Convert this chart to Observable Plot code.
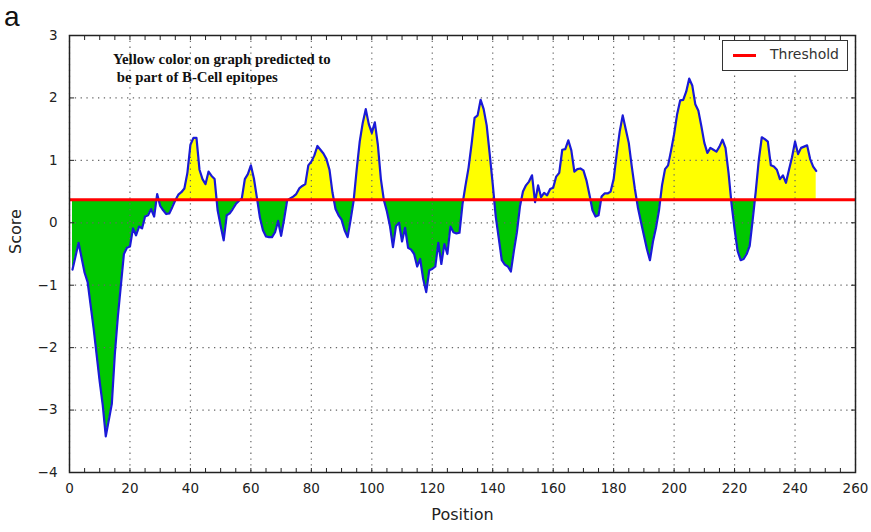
<!DOCTYPE html>
<html>
<head>
<meta charset="utf-8">
<script src="https://cdn.jsdelivr.net/npm/d3@7"></script>
<script src="https://cdn.jsdelivr.net/npm/@observablehq/plot@0.6"></script>
<style>
  body { margin: 0; background: #fff; }
  #wrap { position: relative; width: 871px; height: 532px; overflow: hidden; }
  #panel { position: absolute; left: 4px; top: 2px; font: 28px "Liberation Sans", Arial, sans-serif; color: #111; line-height: 30px; }
  #note { position: absolute; left: 113px; top: 50px; font: bold 14.8px "Liberation Serif", "Times New Roman", serif; line-height: 18px; color: #111; white-space: pre; }
  #legend { position: absolute; left: 722px; top: 40px; width: 126px; height: 31px; border: 1px solid #333; background: #fff; box-sizing: border-box; }
  #legend .sw { position: absolute; left: 10px; top: 13px; width: 23px; height: 3px; background: #ff0000; }
  #legend .lb { position: absolute; left: 47px; top: 5px; font: 14px "DejaVu Sans", sans-serif; color: #333; }
</style>
</head>
<body>
<div id="wrap">
  <div id="chart"></div>
  <div id="panel">a</div>
  <div id="note">Yellow color on graph predicted to
 be part of B-Cell epitopes</div>
  <div id="legend"><div class="sw"></div><div class="lb">Threshold</div></div>
</div>
<script>
// ---- data ----
const positions = [
  1,3,5,6,8,10,11,12,14,15,16,17,18,19,20,21,22,23,24,25,26,27,28,29,30,
  31,32,33,34,35,36,37,38,39,40,41,42,43,44,45,46,47,48,49,50,
  51,52,53,54,55,56,57,58,59,60,61,62,63,64,65,66,67,68,69,70,
  71,72,73,74,75,76,77,78,79,80,81,82,83,84,85,86,87,88,89,90,
  91,92,93,94,95,96,97,98,99,100,101,102,103,104,105,106,107,108,109,110,
  111,112,113,114,115,116,117,118,119,120,121,122,123,124,125,126,127,128,129,130,
  131,132,133,134,135,136,137,138,139,140,141,142,143,144,145,146,147,148,149,150,
  151,152,153,154,155,156,157,158,159,160,161,162,163,164,165,166,167,168,169,170,
  171,172,173,174,175,176,177,178,179,180,181,182,183,184,185,186,187,188,189,190,
  191,192,193,194,195,196,197,198,199,200,201,202,203,204,205,206,207,208,209,210,
  211,212,213,214,215,216,217,218,219,220,221,222,223,224,225,226,227,228,229,230,
  231,232,233,234,235,236,237,238,239,240,241,242,243,244,245,246,247
];
const scores = [
  -0.75,-0.32,-0.80,-0.95,-1.70,-2.55,-2.92,-3.42,-2.90,-2.10,-1.50,-1.00,-0.50,-0.40,-0.38,-0.09,-0.20,-0.06,-0.09,0.10,0.12,0.22,0.10,0.46,0.27,
  0.20,0.14,0.15,0.25,0.36,0.45,0.49,0.55,0.80,1.25,1.36,1.36,0.85,0.70,0.62,0.82,0.75,0.70,0.20,-0.05,
  -0.28,0.12,0.15,0.22,0.30,0.35,0.39,0.70,0.78,0.92,0.71,0.40,0.08,-0.12,-0.22,-0.23,-0.23,-0.15,0.03,-0.21,
  0.06,0.36,0.39,0.42,0.46,0.55,0.59,0.62,0.92,0.98,1.08,1.23,1.17,1.11,1.02,0.85,0.48,0.22,0.12,0.05,
  -0.12,-0.23,0.05,0.36,0.85,1.30,1.60,1.82,1.58,1.44,1.61,1.25,0.70,0.36,0.18,-0.05,-0.39,-0.05,0.00,-0.30,
  -0.08,-0.40,-0.43,-0.50,-0.70,-0.58,-0.90,-1.11,-0.76,-0.74,-0.70,-0.32,-0.66,-0.34,-0.50,-0.06,-0.15,-0.17,-0.16,0.30,
  0.60,0.88,1.26,1.68,1.72,1.97,1.82,1.56,1.10,0.62,0.10,-0.25,-0.60,-0.67,-0.70,-0.78,-0.45,-0.15,0.26,0.50,
  0.60,0.66,0.76,0.33,0.60,0.41,0.48,0.44,0.54,0.56,0.74,0.80,1.17,1.18,1.32,1.16,0.82,0.86,0.87,0.84,
  0.68,0.45,0.20,0.10,0.12,0.42,0.47,0.47,0.50,0.70,1.10,1.46,1.72,1.50,1.28,0.90,0.55,0.25,0.02,-0.20,
  -0.42,-0.60,-0.30,-0.08,0.20,0.60,0.86,0.92,1.16,1.42,1.74,1.96,1.97,2.10,2.31,2.20,1.90,1.80,1.55,1.28,
  1.12,1.20,1.17,1.14,1.22,1.33,1.20,0.80,0.30,-0.10,-0.45,-0.60,-0.58,-0.50,-0.37,0.05,0.50,1.00,1.37,1.34,
  1.30,0.92,0.90,0.85,0.70,0.76,0.64,0.85,1.05,1.30,1.10,1.20,1.22,1.24,1.02,0.90,0.83
];
const threshold = 0.37;
const xTickLabels = [0,20,40,60,80,100,120,140,160,180,200,220,240,260];
const xSmallTicks = d3.range(0, 261, 5);
const yTickLabels = [-4,-3,-2,-1,0,1,2,3];

const data = positions.map((p, i) => ({pos: p, score: scores[i]}));

const W = 871, H = 532;
const grid = {stroke: "#666", strokeOpacity: 1, strokeWidth: 1.2, strokeDasharray: "1.3,4.5"};
const fmt = d3.format("d");

const chart = Plot.plot({
  width: W, height: H,
  marginLeft: 69, marginRight: 16, marginTop: 35, marginBottom: 60,
  style: {fontFamily: "DejaVu Sans, sans-serif", fontSize: "13.5px", color: "#222", background: "#fff"},
  x: {domain: [0, 260]},
  y: {domain: [-4, 3]},
  marks: [
    Plot.areaY(data, {x: "pos", y1: threshold, y2: "score", fill: "#ffff00"}),
    Plot.areaY(data, {x: "pos", y1: threshold, y2: "score", fill: "#00c800"}),
    Plot.ruleX(xTickLabels, {...grid}),
    Plot.ruleY(yTickLabels, {...grid}),
    Plot.lineY(data, {x: "pos", y: "score", stroke: "#1a1ad8", strokeWidth: 2.2}),
    Plot.ruleY([threshold], {stroke: "#ff0000", strokeWidth: 3}),
    // inward ticks on all four sides
    Plot.axisX(xSmallTicks, {anchor: "bottom", tickSize: 4, text: null, label: null, dy: -4, stroke: "#222"}),
    Plot.axisX(xSmallTicks, {anchor: "top", tickSize: 4, text: null, label: null, dy: 4, stroke: "#222"}),
    Plot.axisY(yTickLabels, {anchor: "left", tickSize: 5, text: null, label: null, dx: 5, stroke: "#222"}),
    Plot.axisY(yTickLabels, {anchor: "right", tickSize: 5, text: null, label: null, dx: -5, stroke: "#222"}),
    // tick labels
    Plot.axisX(xTickLabels, {anchor: "bottom", tickSize: 0, tickPadding: 11, label: null, tickFormat: fmt, fontSize: 13.5}),
    Plot.axisY(yTickLabels, {anchor: "left", tickSize: 0, tickPadding: 12, label: null, tickFormat: fmt, fontSize: 13.5}),
    Plot.frame({stroke: "#222", strokeWidth: 1.5}),
    Plot.text(["Position"], {frameAnchor: "bottom", dy: 47, fontSize: 16, fill: "#222"}),
    Plot.text(["Score"], {frameAnchor: "left", dx: -54, rotate: -90, fontSize: 16, fill: "#222"})
  ]
});

document.getElementById("chart").appendChild(chart);

// clip the two fills at the threshold so yellow is above and green is below
const ty = chart.scale("y").apply(threshold);
const svg = d3.select(chart);
const defs = svg.insert("defs", ":first-child");
defs.append("clipPath").attr("id", "clipAbove")
  .append("rect").attr("x", 0).attr("y", 0).attr("width", W).attr("height", ty);
defs.append("clipPath").attr("id", "clipBelow")
  .append("rect").attr("x", 0).attr("y", ty).attr("width", W).attr("height", H - ty);
const areas = svg.selectAll('g[aria-label="area"]').nodes();
if (areas.length >= 2) {
  d3.select(areas[0]).attr("clip-path", "url(#clipAbove)");
  d3.select(areas[1]).attr("clip-path", "url(#clipBelow)");
}
</script>
</body>
</html>
